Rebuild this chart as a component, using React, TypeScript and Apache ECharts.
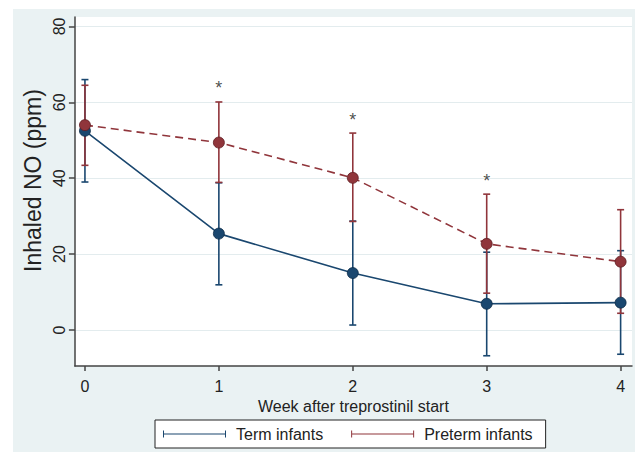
import React, { useEffect, useRef } from "react";
import * as echarts from "echarts";

const weeks = [0, 1, 2, 3, 4];
const xTicks = [0, 1, 2, 3, 4];
const yTicks = [0, 20, 40, 60, 80];

const termMean = [52.5, 25.4, 15.0, 6.9, 7.2];
const termLower = [39.0, 11.9, 1.3, -6.8, -6.4];
const termUpper = [66.0, 38.8, 28.7, 20.5, 20.9];

const pretermMean = [54.0, 49.4, 40.1, 22.7, 18.0];
const pretermLower = [43.4, 38.9, 28.6, 9.7, 4.4];
const pretermUpper = [64.5, 60.1, 51.9, 35.8, 31.7];

const starWeeks = [1, 2, 3];

const BLUE = "#1a476f";
const RED = "#90353b";
const BG = "#eaf2f3";
const FONT = "'Liberation Sans', Arial, sans-serif";
const LEGEND_ICON = "path://M0,0h1v7h-1zM0,3h63v1h-63zM62,0h1v7h-1z";

function errorBar(color: string) {
  return (params: any, api: any) => {
    const x = api.value(0);
    const lo = api.value(1);
    const hi = api.value(2);
    const pLo = api.coord([x, lo]);
    const pHi = api.coord([x, hi]);
    const hw = 3.5;
    const style = { stroke: color, lineWidth: 1.6 };
    return {
      type: "group",
      children: [
        { type: "line", shape: { x1: pLo[0], y1: pLo[1], x2: pHi[0], y2: pHi[1] }, style },
        { type: "line", shape: { x1: pLo[0] - hw, y1: pLo[1], x2: pLo[0] + hw, y2: pLo[1] }, style },
        { type: "line", shape: { x1: pHi[0] - hw, y1: pHi[1], x2: pHi[0] + hw, y2: pHi[1] }, style },
      ],
    };
  };
}

export default function App() {
  const ref = useRef<HTMLDivElement>(null);
  useEffect(() => {
    if (!ref.current) return;
    const chart = echarts.init(ref.current, undefined, { renderer: "svg" });
    chart.setOption({
      animation: false,
      backgroundColor: BG,
      textStyle: { fontFamily: FONT },
      grid: {
        left: 59,
        top: 8,
        right: 3,
        bottom: 86,
        show: true,
        backgroundColor: "#ffffff",
        borderWidth: 0,
      },
      legend: {
        left: 142,
        top: 411,
        orient: "horizontal",
        itemGap: 28,
        itemWidth: 63,
        itemHeight: 7,
        padding: [6, 13, 6, 8],
        borderColor: "#222",
        borderWidth: 1,
        backgroundColor: "#ffffff",
        itemStyle: { borderWidth: 0 },
        textStyle: { fontSize: 16, color: "#222", fontFamily: FONT, padding: [0, 0, 0, 5] },
        data: [
          { name: "Term infants", icon: LEGEND_ICON },
          { name: "Preterm infants", icon: LEGEND_ICON },
        ],
      },
      xAxis: {
        type: "value",
        min: -0.075,
        max: 4.085,
        name: "Week after treprostinil start",
        nameLocation: "middle",
        nameGap: 23,
        nameTextStyle: { fontSize: 16, color: "#222", fontFamily: FONT },
        axisLine: { show: true, onZero: false, lineStyle: { color: "#444", width: 1.5 } },
        axisTick: { show: true, length: 5, customValues: xTicks, lineStyle: { color: "#444", width: 1.5 } },
        axisLabel: { customValues: xTicks, fontSize: 16, color: "#222", margin: 12, fontFamily: FONT },
        splitLine: { show: false },
      },
      yAxis: {
        type: "value",
        min: -9.5,
        max: 82.5,
        name: "Inhaled NO (ppm)",
        nameLocation: "middle",
        nameGap: 26,
        nameTextStyle: { fontSize: 23, color: "#222", fontFamily: FONT, padding: [0, 0, 0, 22] },
        axisLine: { show: true, onZero: false, lineStyle: { color: "#444", width: 1.5 } },
        axisTick: { show: true, length: 6, customValues: yTicks, lineStyle: { color: "#444", width: 1.5 } },
        axisLabel: { customValues: yTicks, rotate: 90, fontSize: 16, color: "#222", margin: 7, fontFamily: FONT },
        splitLine: { show: true, lineStyle: { color: "#e3ecee", width: 1.2 } },
      },
      series: [
        {
          name: "Term infants CI",
          type: "custom",
          z: 2,
          renderItem: errorBar(BLUE),
          encode: { x: 0, y: [1, 2] },
          data: weeks.map((w, i) => [w, termLower[i], termUpper[i]]),
          silent: true,
        },
        {
          name: "Preterm infants CI",
          type: "custom",
          z: 2,
          renderItem: errorBar(RED),
          encode: { x: 0, y: [1, 2] },
          data: weeks.map((w, i) => [w, pretermLower[i], pretermUpper[i]]),
          silent: true,
        },
        {
          name: "Term infants",
          type: "line",
          z: 3,
          data: weeks.map((w, i) => [w, termMean[i]]),
          symbol: "circle",
          symbolSize: 11,
          showAllSymbol: true,
          lineStyle: { color: BLUE, width: 1.6 },
          itemStyle: { color: BLUE, borderColor: "#0e2c48", borderWidth: 0.8 },
        },
        {
          name: "Preterm infants",
          type: "line",
          z: 4,
          data: weeks.map((w, i) => [w, pretermMean[i]]),
          symbol: "circle",
          symbolSize: 11,
          showAllSymbol: true,
          lineStyle: { color: RED, width: 1.6, type: [8, 5] },
          itemStyle: { color: RED, borderColor: "#5e1d22", borderWidth: 0.8 },
        },
        {
          name: "Significance",
          type: "scatter",
          z: 5,
          silent: true,
          symbolSize: 1,
          itemStyle: { color: "rgba(0,0,0,0)" },
          data: starWeeks.map((w) => [w, pretermUpper[weeks.indexOf(w)]]),
          label: {
            show: true,
            formatter: "*",
            position: "top",
            distance: 4,
            fontSize: 18,
            color: "#222",
            fontFamily: FONT,
          },
        },
      ],
    });
    return () => chart.dispose();
  }, []);
  return (
    <div
      ref={ref}
      style={{ position: "absolute", left: 13, top: 9, width: 622, height: 443 }}
    />
  );
}
